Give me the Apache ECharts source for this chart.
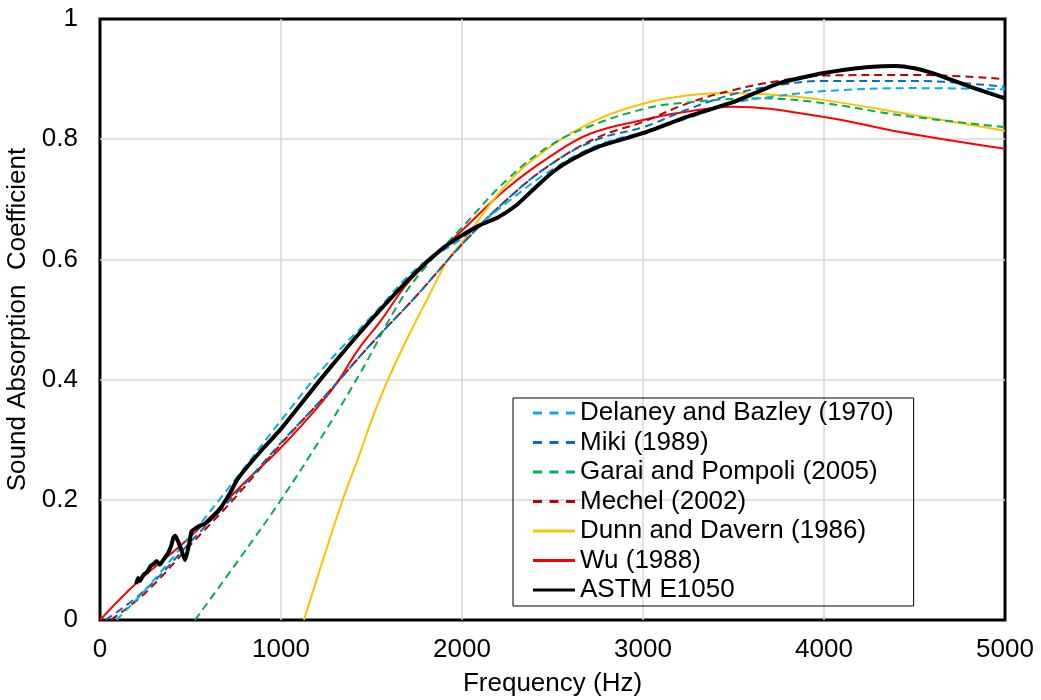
<!DOCTYPE html>
<html>
<head>
<meta charset="utf-8">
<script src="https://cdn.jsdelivr.net/npm/echarts@6/dist/echarts.min.js"></script>
<style>
html,body{margin:0;padding:0;background:#fff;}
#chart{width:1041px;height:700px;}
</style>
</head>
<body>
<div id="chart"></div>
<script>
// Series names
const seriesNames = ['Delaney and Bazley (1970)', 'Miki (1989)', 'Garai and Pompoli (2005)', 'Mechel (2002)', 'Dunn and Davern (1986)', 'Wu (1988)', 'ASTM E1050'];

// [frequency Hz, absorption coefficient]
const delaney = [[90,0],[250,0.05],[500,0.14],[750,0.235],[1000,0.332],[1250,0.425],[1500,0.505],[1750,0.585],[2000,0.635],[2250,0.695],[2500,0.75],[2750,0.79],[3000,0.812],[3250,0.835],[3500,0.86],[3750,0.872],[4000,0.88],[4500,0.885],[5000,0.883]];
const miki = [[30,0],[250,0.05],[500,0.13],[750,0.21],[1000,0.295],[1250,0.375],[1500,0.46],[1750,0.54],[2000,0.625],[2250,0.7],[2500,0.76],[2750,0.8],[3000,0.82],[3250,0.85],[3500,0.875],[3750,0.89],[4000,0.897],[4500,0.897],[5000,0.887]];
const garai = [[525,0],[790,0.11],[1000,0.2],[1215,0.3],[1436,0.41],[1657,0.53],[1805,0.59],[2000,0.653],[2250,0.733],[2490,0.79],[2710,0.822],[3000,0.85],[3200,0.86],[3650,0.868],[4000,0.86],[4420,0.84],[5000,0.82]];
const mechel = [[60,0],[250,0.045],[500,0.125],[750,0.205],[1000,0.293],[1250,0.375],[1500,0.46],[1750,0.54],[2000,0.625],[2250,0.7],[2500,0.76],[2750,0.803],[3000,0.829],[3250,0.86],[3500,0.882],[3750,0.897],[4000,0.906],[4500,0.907],[5000,0.9]];
const dunn = [[1127,0],[1200,0.07],[1341,0.2],[1436,0.277],[1500,0.332],[1591,0.4],[1700,0.47],[1805,0.532],[1923,0.6],[2000,0.628],[2250,0.726],[2500,0.79],[2750,0.833],[3000,0.859],[3250,0.873],[3500,0.877],[3750,0.873],[4000,0.865],[4500,0.84],[5000,0.814]];
const wu = [[0,0],[203,0.062],[442,0.123],[552,0.154],[810,0.232],[1000,0.287],[1271,0.379],[1436,0.454],[1547,0.496],[1713,0.565],[2000,0.648],[2247,0.718],[2486,0.771],[2707,0.809],[3000,0.832],[3204,0.844],[3497,0.854],[4000,0.837],[4420,0.812],[5000,0.784]];
const astm = [[200,0.06],[210,0.07],[220,0.065],[240,0.075],[260,0.08],[280,0.09],[295,0.093],[313,0.098],[330,0.092],[350,0.1],[377,0.112],[395,0.125],[405,0.137],[415,0.14],[425,0.135],[435,0.128],[451,0.115],[470,0.1],[480,0.11],[495,0.13],[506,0.148],[530,0.153],[552,0.157],[580,0.16],[608,0.168],[650,0.18],[681,0.193],[720,0.212],[755,0.232],[800,0.25],[900,0.285],[1000,0.318],[1250,0.412],[1500,0.5],[1750,0.58],[1900,0.62],[2000,0.64],[2100,0.657],[2200,0.67],[2300,0.69],[2400,0.718],[2500,0.745],[2600,0.765],[2750,0.787],[3000,0.81],[3250,0.838],[3500,0.862],[3750,0.893],[4000,0.91],[4250,0.92],[4400,0.922],[4500,0.918],[4600,0.91],[4800,0.888],[5000,0.868]];

const xTicks = [0, 1000, 2000, 3000, 4000, 5000];
const yTicks = [0, 0.2, 0.4, 0.6, 0.8, 1];

const allData = [delaney, miki, garai, mechel, dunn, wu, astm];
const colors = ['#00B0F0', '#0070C0', '#00B050', '#C00000', '#FFC000', '#FF0000', '#000000'];
const dashed = [true, true, true, true, false, false, false];
const widths = [2, 2, 2, 2, 2, 2, 4];

const FONT = 'Liberation Sans, Arial, sans-serif';
const FS = 26;
const DASH_ICON = 'path://M0,0h9v3h-9z M16.5,0h9v3h-9z M33,0h9v3h-9z';
const SOLID_ICON = 'path://M0,0h42v3h-42z';

const chart = echarts.init(document.getElementById('chart'), null, {renderer: 'canvas'});
chart.setOption({
  animation: false,
  backgroundColor: '#fff',
  grid: {left: 100, right: 36, top: 19, bottom: 80, show: true, borderColor: '#000', borderWidth: 3,
         containLabel: false, outerBoundsMode: 'none'},
  xAxis: {
    type: 'value', min: xTicks[0], max: xTicks[xTicks.length - 1], interval: 1000,
    name: 'Frequency (Hz)', nameLocation: 'middle', nameGap: 51,
    nameTextStyle: {fontFamily: FONT, fontSize: FS, color: '#000'},
    axisLine: {show: false}, axisTick: {show: false},
    axisLabel: {fontFamily: FONT, fontSize: FS, color: '#000', margin: 17, formatter: v => String(v)},
    splitLine: {show: true, showMinLine: false, showMaxLine: false, lineStyle: {color: '#d9d9d9', width: 1.5}}
  },
  yAxis: {
    type: 'value', min: yTicks[0], max: yTicks[yTicks.length - 1], interval: 0.2,
    name: 'Sound Absorption  Coefficient', nameLocation: 'middle', nameGap: 61,
    nameTextStyle: {fontFamily: FONT, fontSize: FS, color: '#000'},
    axisLine: {show: false}, axisTick: {show: false},
    axisLabel: {fontFamily: FONT, fontSize: FS, color: '#000', margin: 22,
      formatter: v => (v === 0 ? '0' : v === 1 ? '1' : v.toFixed(1))},
    splitLine: {show: true, showMinLine: false, showMaxLine: false, lineStyle: {color: '#d9d9d9', width: 1.5}}
  },
  legend: {
    orient: 'vertical', left: 513, top: 398,
    data: seriesNames.map((n, i) => ({name: n, icon: dashed[i] ? DASH_ICON : SOLID_ICON})),
    itemWidth: 42, itemHeight: 3, itemGap: 3.5,
    padding: [2, 20, 3, 20],
    borderColor: '#000', borderWidth: 1,
    textStyle: {fontFamily: FONT, fontSize: FS, color: '#000', lineHeight: 24}
  },
  series: allData.map((d, i) => ({
    name: seriesNames[i], type: 'line', data: d,
    symbol: 'none', showSymbol: false,
    smooth: i === 6 ? 0.2 : 0.4,
    clip: true,
    z: i === 6 ? 10 : 2 + (6 - i),
    lineStyle: {color: colors[i], width: widths[i], type: dashed[i] ? [8, 5] : 'solid'},
    itemStyle: {color: colors[i]}
  }))
});
</script>
</body>
</html>
